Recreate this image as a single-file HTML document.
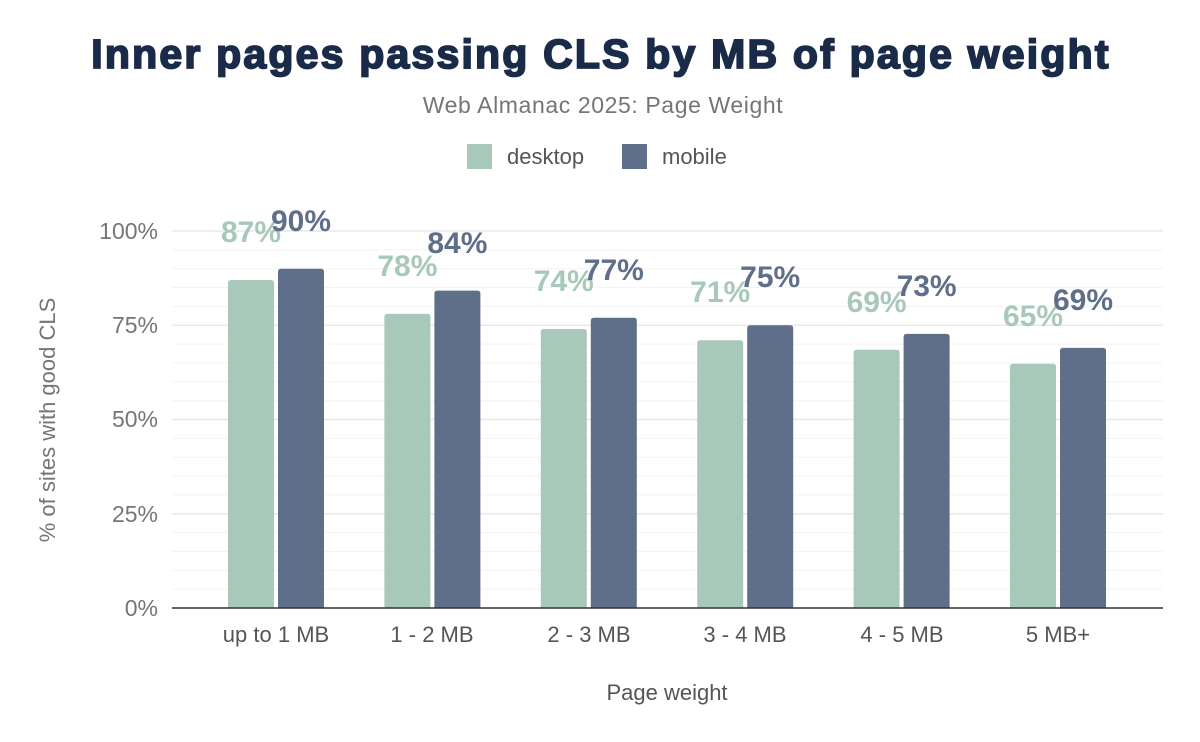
<!DOCTYPE html>
<html><head><style>body{margin:0;background:#fff}svg{display:block}</style></head><body>
<svg width="1200" height="742" xmlns="http://www.w3.org/2000/svg" font-family="Liberation Sans, sans-serif">
<text x="601" y="68" text-anchor="middle" font-size="41" font-weight="900" letter-spacing="2.2" fill="#1a2b49" stroke="#1a2b49" stroke-width="1.8">Inner pages passing CLS by MB of page weight</text>
<text x="603" y="113" text-anchor="middle" font-size="23" letter-spacing="0.6" fill="#757575">Web Almanac 2025: Page Weight</text>
<rect x="467" y="144" width="25" height="25" fill="#a8c9b9"/>
<text x="507" y="164" font-size="22" fill="#555">desktop</text>
<rect x="622" y="144" width="25" height="25" fill="#5f6e89"/>
<text x="662" y="164" font-size="22" fill="#555">mobile</text>
<g stroke="#f3f3f3" stroke-width="1">
<line x1="172" x2="1163" y1="249.9" y2="249.9"/><line x1="172" x2="1163" y1="268.7" y2="268.7"/><line x1="172" x2="1163" y1="287.6" y2="287.6"/><line x1="172" x2="1163" y1="306.4" y2="306.4"/>
<line x1="172" x2="1163" y1="344.1" y2="344.1"/><line x1="172" x2="1163" y1="363" y2="363"/><line x1="172" x2="1163" y1="381.8" y2="381.8"/><line x1="172" x2="1163" y1="400.7" y2="400.7"/>
<line x1="172" x2="1163" y1="438.4" y2="438.4"/><line x1="172" x2="1163" y1="457.2" y2="457.2"/><line x1="172" x2="1163" y1="476.1" y2="476.1"/><line x1="172" x2="1163" y1="494.9" y2="494.9"/>
<line x1="172" x2="1163" y1="532.6" y2="532.6"/><line x1="172" x2="1163" y1="551.5" y2="551.5"/><line x1="172" x2="1163" y1="570.3" y2="570.3"/><line x1="172" x2="1163" y1="589.2" y2="589.2"/>
</g>
<g stroke="#e8e8e8" stroke-width="1.5">
<line x1="172" x2="1163" y1="231" y2="231"/><line x1="172" x2="1163" y1="325.3" y2="325.3"/><line x1="172" x2="1163" y1="419.5" y2="419.5"/><line x1="172" x2="1163" y1="513.8" y2="513.8"/>
</g>
<g font-size="23" fill="#757575" text-anchor="end">
<text x="158" y="239">100%</text><text x="158" y="333">75%</text><text x="158" y="427">50%</text><text x="158" y="522">25%</text><text x="158" y="616">0%</text>
</g>
<text transform="translate(55,420) rotate(-90)" text-anchor="middle" font-size="22" fill="#757575">% of sites with good CLS</text>
<g fill="#a8c9b9">
<path d="M228 608V283q0-3 3-3h40q3 0 3 3V608z"/>
<path d="M384.4 608V316.9q0-3 3-3h40q3 0 3 3V608z"/>
<path d="M540.8 608V332q0-3 3-3h40q3 0 3 3V608z"/>
<path d="M697.2 608V343.3q0-3 3-3h40q3 0 3 3V608z"/>
<path d="M853.6 608V352.8q0-3 3-3h40q3 0 3 3V608z"/>
<path d="M1010 608V366.7q0-3 3-3h40q3 0 3 3V608z"/>
</g>
<g fill="#5f6e89">
<path d="M278 608V271.7q0-3 3-3h40q3 0 3 3V608z"/>
<path d="M434.4 608V293.6q0-3 3-3h40q3 0 3 3V608z"/>
<path d="M590.8 608V320.7q0-3 3-3h40q3 0 3 3V608z"/>
<path d="M747.2 608V328.3q0-3 3-3h40q3 0 3 3V608z"/>
<path d="M903.6 608V336.9q0-3 3-3h40q3 0 3 3V608z"/>
<path d="M1060 608V350.9q0-3 3-3h40q3 0 3 3V608z"/>
</g>
<g font-size="30" font-weight="bold" text-anchor="middle" fill="#a8c9b9">
<text x="251" y="242">87%</text><text x="407.4" y="276">78%</text><text x="563.8" y="291">74%</text><text x="720.2" y="302">71%</text><text x="876.6" y="312">69%</text><text x="1033" y="326">65%</text>
</g>
<g font-size="30" font-weight="bold" text-anchor="middle" fill="#5f6e89">
<text x="301" y="231">90%</text><text x="457.4" y="253">84%</text><text x="613.8" y="280">77%</text><text x="770.2" y="287">75%</text><text x="926.6" y="296">73%</text><text x="1083" y="310">69%</text>
</g>
<line x1="172" x2="1163" y1="608" y2="608" stroke="#333" stroke-width="1.5"/>
<g font-size="22" fill="#555" text-anchor="middle">
<text x="276" y="642">up to 1 MB</text><text x="432" y="642">1 - 2 MB</text><text x="589" y="642">2 - 3 MB</text><text x="745" y="642">3 - 4 MB</text><text x="902" y="642">4 - 5 MB</text><text x="1058" y="642">5 MB+</text>
</g>
<text x="667" y="700" text-anchor="middle" font-size="22" fill="#555">Page weight</text>
</svg>
</body></html>
